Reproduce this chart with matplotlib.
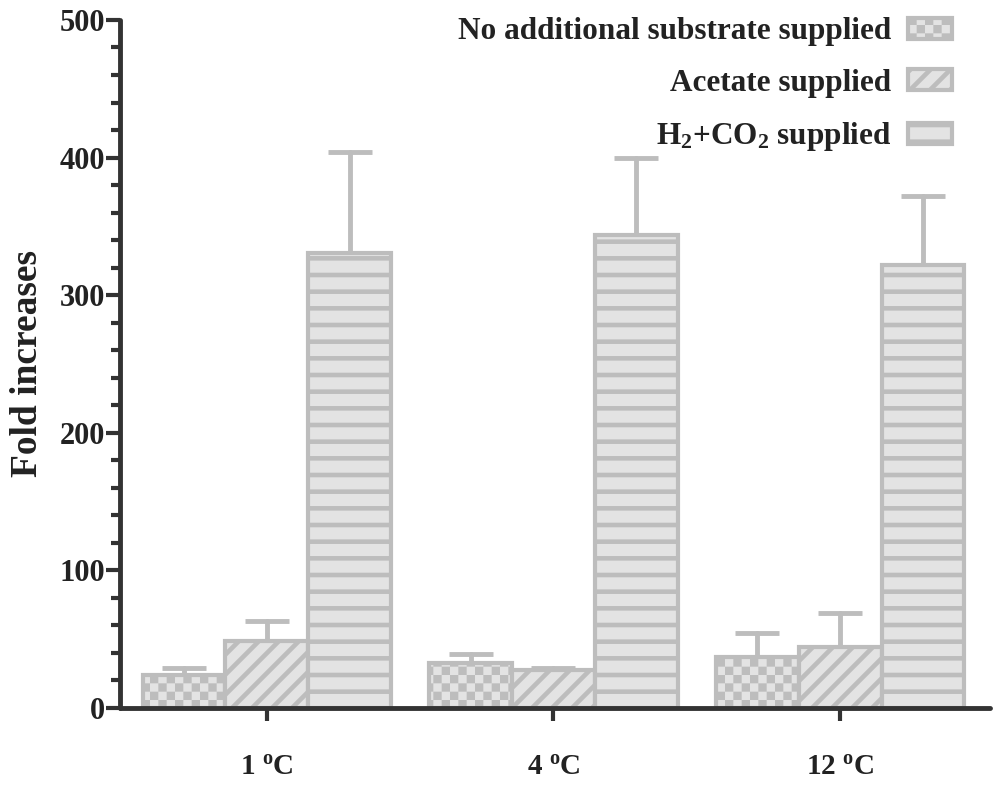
import warnings
import numpy as np
import matplotlib
matplotlib.use('Agg')
import matplotlib.pyplot as plt
import matplotlib.hatch as mhatch
from matplotlib.path import Path
from matplotlib.ticker import MultipleLocator

warnings.filterwarnings('ignore')

# Data
temps = ['1 $^{\\mathrm{o}}$C', '4 $^{\\mathrm{o}}$C', '12 $^{\\mathrm{o}}$C']
no_sub = [24, 33, 37]
no_sub_err = [5, 6, 17.5]
acetate = [49, 27.5, 44]
acetate_err = [14, 1.5, 25]
h2co2 = [331, 344, 322]
h2co2_err = [73, 56, 50]
labels = ['No additional substrate supplied', 'Acetate supplied',
          'H$_2$+CO$_2$ supplied']

HATCH_LW = 3.3  # points


# checkerboard hatch ('c') and a sparser diagonal hatch ('d')
class CheckerHatch(mhatch.HatchPatternBase):
    def __init__(self, hatch, density):
        self.cells = 12 if 'c' in hatch else 0
        self.num_vertices = (self.cells * self.cells // 2) * 5

    def set_vertices_and_codes(self, vertices, codes):
        n = self.cells
        half = (1.0 / n - HATCH_LW / 72.0) / 2.0
        k = 0
        for i in range(n):
            for j in range(n):
                if (i + j) % 2:
                    continue
                cx, cy = (i + 0.5) / n, (j + 0.5) / n
                vertices[k:k + 5] = [[cx - half, cy - half], [cx + half, cy - half],
                                     [cx + half, cy + half], [cx - half, cy + half],
                                     [cx - half, cy - half]]
                codes[k:k + 5] = [Path.MOVETO, Path.LINETO, Path.LINETO,
                                  Path.LINETO, Path.CLOSEPOLY]
                k += 5


class DiagHatch(mhatch.HatchPatternBase):
    def __init__(self, hatch, density):
        self.k = 5 if 'd' in hatch else 0
        self.num_vertices = (2 * self.k + 1) * 2 if self.k else 0

    def set_vertices_and_codes(self, vertices, codes):
        steps = np.linspace(-0.5, 0.5, 2 * self.k + 1)
        vertices[0::2, 0] = 0.0 + steps
        vertices[0::2, 1] = 0.0 - steps
        vertices[1::2, 0] = 1.0 + steps
        vertices[1::2, 1] = 1.0 - steps
        codes[0::2] = Path.MOVETO
        codes[1::2] = Path.LINETO


mhatch._hatch_types.append(CheckerHatch)
mhatch._hatch_types.append(DiagHatch)

plt.rcParams['font.family'] = ['Liberation Serif', 'DejaVu Serif']
plt.rcParams['font.weight'] = 'bold'
plt.rcParams['mathtext.fontset'] = 'custom'
plt.rcParams['mathtext.rm'] = 'Liberation Serif:bold'
plt.rcParams['mathtext.it'] = 'Liberation Serif:bold:italic'
plt.rcParams['mathtext.bf'] = 'Liberation Serif:bold'
plt.rcParams['hatch.linewidth'] = HATCH_LW

edge = '#bdbdbd'
face = '#e3e3e3'
dark = '#333333'
text_col = '#222222'

fig = plt.figure(figsize=(10, 7.89), dpi=100)
ax = fig.add_axes([0.12, 0.1027, 0.87, 0.872])

x = np.arange(len(temps))
w = 0.289
series = [(no_sub, no_sub_err, 'c'), (acetate, acetate_err, 'd'), (h2co2, h2co2_err, '-')]
handles = []
for k, (vals, errs, hat) in enumerate(series):
    xs = x + (k - 1) * w
    eb = ax.errorbar(xs, vals, yerr=[np.zeros(len(vals)), errs], fmt='none',
                     ecolor=edge, elinewidth=3.5, capsize=16, capthick=3.5, zorder=1)
    for lc in eb[2]:
        lc.set_capstyle('round')
    bars = ax.bar(xs, vals, width=w, color=face, edgecolor=edge,
                  linewidth=3, hatch=hat, zorder=2)
    handles.append(bars[0])

ax.set_xlim(-0.512, 2.523)
ax.set_ylim(0, 500)
ax.set_xticks(x)
ax.set_xticklabels(temps, fontsize=21, color=text_col)
ax.yaxis.set_major_locator(MultipleLocator(100))
ax.yaxis.set_minor_locator(MultipleLocator(20))
ax.tick_params(axis='y', which='major', length=10, width=3, color=dark,
               labelsize=22, pad=1, labelcolor=text_col)
ax.tick_params(axis='y', which='minor', length=6.5, width=3, color=dark)
ax.tick_params(axis='x', which='major', length=9, width=3, color=dark, pad=24)
ax.set_ylabel('Fold increases', fontsize=27, fontweight='bold',
              color=text_col, labelpad=10)

for side in ['top', 'right']:
    ax.spines[side].set_visible(False)
for side in ['left', 'bottom']:
    ax.spines[side].set_linewidth(3.5)
    ax.spines[side].set_color(dark)
    ax.spines[side].set_capstyle('round')

leg = ax.legend(handles, labels, loc='upper right', bbox_to_anchor=(0.952, 0.978),
                bbox_transform=fig.transFigure, frameon=False, markerfirst=False,
                fontsize=22.5, handlelength=1.4, handleheight=0.65, handletextpad=0.55,
                labelspacing=0.72, borderpad=0, borderaxespad=0)
for t in leg.get_texts():
    t.set_color(text_col)

plt.savefig('out.png', dpi=100)
